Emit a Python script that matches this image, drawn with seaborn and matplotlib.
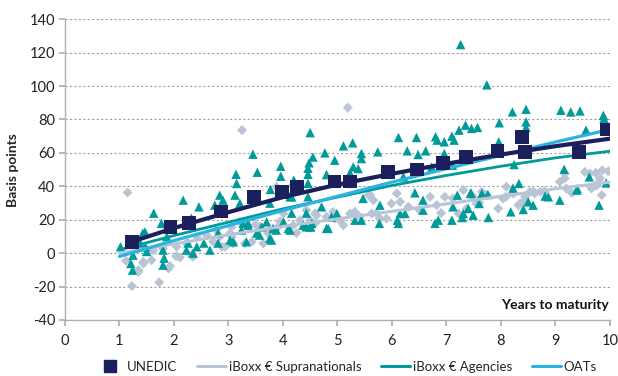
import numpy as np
import pandas as pd
import matplotlib
matplotlib.use("Agg")
import matplotlib.pyplot as plt
import seaborn as sns
from matplotlib.lines import Line2D

# ---------------- data ----------------
unedic_x = [1.23, 1.94, 2.28, 2.86, 3.47, 3.98, 4.26, 4.95, 5.23, 5.93, 6.46, 6.94,
            7.36, 7.94, 8.39, 8.44, 9.43, 9.94]
unedic_y = [6.6, 15.6, 18.0, 25.0, 33.5, 36.5, 39.5, 43.0, 43.0, 48.5, 50.0, 53.8,
            57.4, 61.0, 69.4, 60.4, 60.4, 74.0]

agency_x = [1.02, 1.21, 1.24, 1.25, 1.38, 1.43, 1.47, 1.48, 1.63, 1.50, 1.80, 1.77, 1.80,
            1.82, 1.87, 2.17, 2.23, 2.26, 2.35, 2.32, 2.42, 2.46, 2.55, 2.66, 2.75, 2.84,
            2.81, 2.81, 2.90, 3.03, 3.12, 3.15, 3.21, 3.24, 3.33, 3.36, 3.52, 3.70, 3.79,
            3.76, 3.88, 4.13, 4.16, 4.13, 4.37, 4.43, 4.50, 4.46, 3.45, 3.53, 3.14, 3.77,
            3.96, 3.96, 4.20, 4.50, 4.55, 4.48, 4.46, 4.46, 4.46, 4.77, 4.95, 4.80, 5.11,
            5.28, 5.23, 5.29, 5.44, 5.44, 5.74, 6.12, 6.28, 6.45, 6.48, 6.62, 6.21, 6.73,
            6.80, 6.83, 6.96, 6.96, 7.10, 7.14, 7.11, 7.23, 7.26, 7.35, 7.46, 7.57, 7.74,
            7.97, 7.96, 8.21, 8.24, 8.33, 8.46, 8.46, 8.46, 9.10, 9.28, 9.45, 9.56, 9.88,
            9.89, 9.16, 9.62, 9.93, 9.40, 8.22, 6.42, 7.45, 7.65, 7.76, 7.20, 5.47, 5.78,
            5.77, 6.10, 6.12, 6.15, 6.24, 6.57, 6.57, 6.79, 6.85, 7.10, 7.12, 7.29, 7.31,
            7.40, 7.44, 7.49, 7.60, 7.77, 8.18, 8.41, 8.50, 8.59, 8.81, 8.87, 9.08, 9.39,
            9.80, 4.80, 4.99, 4.89, 5.32, 4.43, 4.53, 4.71, 5.44, 5.38, 4.16, 4.19, 3.27,
            3.36, 3.61, 3.82, 4.01, 4.10, 4.51, 4.83, 3.76, 3.57, 3.09]
agency_y = [3.8, -6.2, -10.2, -1.2, 6.0, 12.0, 12.7, 3.8, 23.9, 1.0, 1.8, 17.8, -7.2,
            -3.0, 9.8, 31.7, 1.8, 6.0, 0.0, 20.9, 3.8, 27.7, 6.0, 1.8, 28.7, 34.7,
            12.0, 6.0, 31.7, 7.8, 34.7, 41.7, 29.9, 13.8, 6.8, 17.9, 12.0, 18.7, 7.8,
            29.9, 13.8, 33.7, 23.9, 13.8, 16.7, 23.9, 15.7, 33.7, 59.2, 48.4, 47.2, 38.1,
            52.0, 46.0, 43.7, 72.1, 57.5, 54.0, 50.8, 47.2, 41.8, 60.0, 55.6, 47.0, 64.2,
            66.0, 48.0, 51.6, 59.6, 56.6, 60.6, 69.2, 61.2, 69.2, 59.0, 61.2, 45.6, 51.6,
            69.6, 67.6, 66.6, 59.6, 70.0, 67.6, 52.6, 73.6, 124.8, 76.6, 74.6, 75.2, 100.7,
            78.0, 66.6, 84.5, 53.0, 41.7, 86.1, 78.5, 75.2, 85.5, 84.5, 85.1, 73.6, 82.5,
            80.6, 50.2, 45.6, 42.0, 38.5, 38.9, 36.1, 36.1, 35.7, 35.1, 34.7, 32.7, 28.7,
            17.8, 19.7, 17.8, 23.7, 23.7, 31.7, 25.7, 17.8, 19.7, 19.7, 27.7, 21.3, 23.7,
            26.7, 35.7, 22.7, 29.7, 21.3, 24.7, 26.1, 30.7, 28.7, 34.1, 33.7, 31.7, 37.7,
            28.7, 14.8, 23.7, 21.7, 19.7, 15.7, 17.8, 27.7, 19.7, 50.6, 33.7, 37.7, 17.8,
            16.7, 15.7, 14.8, 18.7, 14.8, 15.7, 14.8, 8.8, 10.8, 6.8]

supra_x = [1.15, 1.12, 1.23, 1.35, 1.44, 1.59, 1.62, 1.73, 1.90, 1.93, 2.04, 2.11, 2.23,
           2.32, 2.42, 2.60, 2.72, 2.78, 2.88, 3.03, 3.09, 3.21, 3.30, 3.43, 3.58, 3.64,
           3.73, 3.88, 3.91, 4.01, 4.19, 4.31, 4.59, 4.59, 3.25, 5.19, 4.50, 4.62, 4.80,
           4.95, 5.05, 5.11, 5.23, 5.32, 5.41, 5.60, 5.63, 5.72, 5.78, 5.90, 5.99, 6.09,
           6.15, 6.30, 6.70, 6.82, 6.97, 7.12, 7.22, 7.31, 7.37, 7.49, 7.55, 7.65, 7.74,
           7.95, 8.04, 8.10, 8.23, 8.35, 8.44, 8.53, 8.62, 8.72, 9.08, 9.20, 9.66, 9.76,
           9.85, 9.54, 9.63, 9.74, 9.86, 9.97, 9.82, 9.74, 9.17, 9.17, 8.09, 8.32, 8.41,
           8.59, 5.57, 5.66, 4.43, 4.92, 1.80, 2.05, 2.35, 2.84, 2.94, 3.06, 3.06, 1.35,
           1.44, 6.50, 6.90, 7.60, 8.80, 9.30, 3.50, 3.95, 4.25]
supra_y = [36.3, -4.6, -19.7, -10.2, -5.2, -4.2, 1.8, -17.5, -9.2, -7.8, -1.8, -2.6, 5.8,
           -1.2, 9.8, 10.8, 6.8, 13.8, 3.8, 11.8, 5.8, 18.7, 5.8, 6.8, 15.7, 5.8,
           11.8, 39.7, 15.7, 23.7, 16.7, 19.7, 23.7, 17.8, 73.6, 87.1, 19.7, 22.7, 21.7,
           20.7, 19.7, 16.7, 23.7, 24.7, 21.7, 34.7, 23.7, 23.7, 20.7, 20.7, 29.7, 35.7,
           30.7, 27.7, 33.7, 28.7, 33.7, 32.7, 23.7, 37.7, 26.7, 33.7, 29.7, 36.7, 34.7,
           26.7, 32.7, 39.7, 35.7, 29.7, 33.7, 36.7, 35.7, 36.7, 42.7, 38.7, 38.7, 40.7,
           34.7, 48.6, 47.7, 48.0, 49.6, 49.0, 44.7, 40.7, 47.7, 44.7, 33.7, 28.7, 30.7,
           36.7, 34.7, 31.7, 25.7, 24.7, 2.8, 3.8, -2.2, 9.8, 3.8, 15.7, 9.8, -11.2,
           -6.2, 26.0, 24.0, 30.0, 37.0, 36.0, 17.0, 19.0, 12.0]

# trend curves / OAT curve
unedic_fit_x = [1.15, 2, 3, 4, 5, 6, 7, 8, 9, 10]
unedic_fit_y = [6.0, 15.0, 24.5, 33.5, 41.0, 47.5, 53.5, 59.0, 64.0, 68.5]
fit_x = [1, 2, 3, 4, 5, 6, 7, 8, 9, 10]
supra_fit_y = [0.0, 5.5, 11.0, 16.0, 20.5, 25.0, 29.5, 34.0, 38.5, 42.5]
agency_fit_y = [2.0, 10.5, 18.5, 26.5, 33.5, 40.5, 46.5, 52.0, 57.0, 61.0]
oat_y = [-2.0, 7.5, 16.5, 25.5, 34.0, 42.5, 50.5, 58.5, 66.5, 74.0]

labels = ["UNEDIC", "iBoxx € Supranationals", "iBoxx € Agencies", "OATs"]
x_ticks = list(range(0, 11))
y_ticks = list(range(-40, 141, 20))

# ---------------- style ----------------
C_UNEDIC = "#1b1f5c"
C_SUPRA = "#b9c4d4"
C_AGENCY = "#009a9a"
C_OAT = "#2cb4e0"
GRID = "#a0a0a0"

sns.set_theme(style="white")
plt.rcParams["font.family"] = ["Lato", "DejaVu Sans"]

fig = plt.figure(figsize=(6.18, 3.76), dpi=100)
ax = fig.add_axes([0.105, 0.149, 0.882, 0.800])

df_sup = pd.DataFrame({"x": supra_x, "y": supra_y})
df_age = pd.DataFrame({"x": agency_x, "y": agency_y})
df_une = pd.DataFrame({"x": unedic_x, "y": unedic_y})

sns.scatterplot(data=df_sup, x="x", y="y", ax=ax, marker="D", s=26, color=C_SUPRA,
                edgecolor="none", linewidth=0, zorder=2, legend=False)
sns.scatterplot(data=df_age, x="x", y="y", ax=ax, marker="^", s=46, color=C_AGENCY,
                edgecolor="none", linewidth=0, zorder=3, legend=False)

sns.lineplot(x=fit_x, y=supra_fit_y, ax=ax, color=C_SUPRA, linewidth=2.2, zorder=4)
sns.lineplot(x=fit_x, y=agency_fit_y, ax=ax, color=C_AGENCY, linewidth=2.0, zorder=4)
sns.lineplot(x=fit_x, y=oat_y, ax=ax, color=C_OAT, linewidth=2.3, zorder=5)
sns.lineplot(x=unedic_fit_x, y=unedic_fit_y, ax=ax, color=C_UNEDIC, linewidth=3.0, zorder=5)

sns.scatterplot(data=df_une, x="x", y="y", ax=ax, marker="s", s=95, color=C_UNEDIC,
                edgecolor="none", linewidth=0, zorder=6, legend=False)

ax.set_xlim(0, 10)
ax.set_ylim(-40, 140)
ax.set_xticks(x_ticks)
ax.set_yticks(y_ticks)
ax.set_xticklabels([str(v) for v in x_ticks], fontsize=10.5, color="#222222")
ax.set_yticklabels([str(v) for v in y_ticks], fontsize=10.5, color="#222222")

for yv in y_ticks:
    if yv == -40:
        continue
    ax.axhline(yv, color=GRID, linestyle=(0, (2, 2)), linewidth=0.8, zorder=0)

for side in ["top", "right"]:
    ax.spines[side].set_visible(False)
for side in ["left", "bottom"]:
    ax.spines[side].set_color("#b0b0b0")
    ax.spines[side].set_linewidth(1.0)

ax.tick_params(axis="x", direction="out", length=4, color="#b0b0b0", pad=6)
ax.tick_params(axis="y", direction="out", length=4, color="#b0b0b0", pad=3)
ax.tick_params(axis="both", which="both", bottom=True, left=True)

ax.set_xlabel("")
ax.set_ylabel("Basis points", fontsize=10, fontweight="bold", labelpad=8)
ax.text(9.97, -31, "Years to maturity", ha="right", va="center", fontsize=10,
        fontweight="bold", color="#111111")

handles = [
    Line2D([], [], marker="s", linestyle="none", color=C_UNEDIC, markersize=9),
    Line2D([], [], color=C_SUPRA, linewidth=2.2),
    Line2D([], [], color=C_AGENCY, linewidth=2.2),
    Line2D([], [], color=C_OAT, linewidth=2.2),
]
fig.legend(handles, labels, loc="center", bbox_to_anchor=(0.56, 0.025), ncol=4,
           frameon=False, fontsize=9.5, handlelength=2.2, handletextpad=0.2,
           columnspacing=1.5)

fig.savefig("out.png", dpi=100)
